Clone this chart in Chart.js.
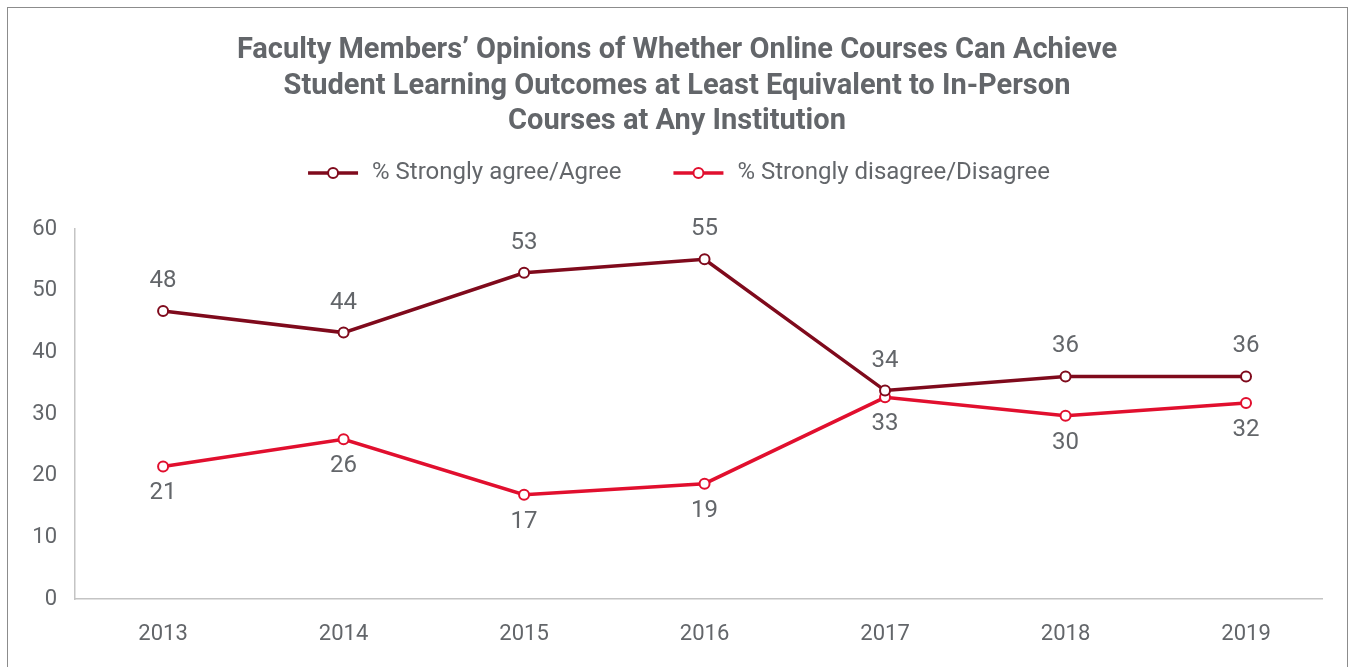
<!DOCTYPE html>
<html lang="en">
<head>
    <meta charset="UTF-8">
    <title>Faculty Members' Opinions of Online Courses</title>
    <style>
        body {
            margin: 0;
            background: #ffffff;
            overflow: hidden;
        }
        .frame {
            position: absolute;
            left: 7px;
            top: 7px;
            width: 1339px;
            height: 700px;
            border: 1px solid #8c8c8c;
        }
        #chart {
            position: absolute;
            left: 0;
            top: 0;
        }
    </style>
</head>
<body>
    <div class="frame"></div>
    <canvas id="chart" width="1349" height="667"></canvas>

    <script src="https://cdn.jsdelivr.net/npm/chart.js"></script>
    <script>
        // data
        const years = [2013, 2014, 2015, 2016, 2017, 2018, 2019];
        const agreeValues = [46.7, 43.2, 52.9, 55.1, 33.8, 36.1, 36.1];
        const disagreeValues = [21.5, 25.9, 16.9, 18.7, 32.7, 29.7, 31.8];
        const agreeLabels = ['48', '44', '53', '55', '34', '36', '36'];
        const disagreeLabels = ['21', '26', '17', '19', '33', '30', '32'];
        const yTicks = [0, 10, 20, 30, 40, 50, 60];

        const titleLines = [
            'Faculty Members\u2019 Opinions of Whether Online Courses Can Achieve',
            'Student Learning Outcomes at Least Equivalent to In-Person',
            'Courses at Any Institution'
        ];
        const seriesNames = ['% Strongly agree/Agree', '% Strongly disagree/Disagree'];

        const grey = '#63666a';
        const darkRed = '#7f0a1c';
        const brightRed = '#e10f2e';

        // title, legend and value labels
        const decorations = {
            id: 'decorations',
            afterDatasetsDraw(chart) {
                const ctx = chart.ctx;
                ctx.save();
                ctx.fillStyle = grey;
                ctx.textAlign = 'center';
                ctx.textBaseline = 'middle';

                ctx.font = 'bold 29px Roboto';
                titleLines.forEach((line, i) => {
                    ctx.fillText(line, 677, 51 + i * 35.5);
                });

                // legend
                ctx.font = '24px Roboto';
                const colors = [darkRed, brightRed];
                const lineW = 50, gapText = 14, gapItem = 52;
                const widths = seriesNames.map(s => ctx.measureText(s).width);
                const total = widths.reduce((a, w) => a + lineW + gapText + w, 0) + gapItem;
                let x = 679 - total / 2;
                const ly = 173;
                seriesNames.forEach((name, i) => {
                    ctx.strokeStyle = colors[i];
                    ctx.lineWidth = 3.5;
                    ctx.beginPath();
                    ctx.moveTo(x, ly);
                    ctx.lineTo(x + lineW, ly);
                    ctx.stroke();
                    ctx.beginPath();
                    ctx.arc(x + lineW / 2, ly, 5, 0, Math.PI * 2);
                    ctx.fillStyle = '#fff';
                    ctx.fill();
                    ctx.lineWidth = 2;
                    ctx.stroke();
                    ctx.fillStyle = grey;
                    ctx.textAlign = 'left';
                    ctx.fillText(name, x + lineW + gapText, ly);
                    x += lineW + gapText + widths[i] + gapItem;
                });

                // value labels
                ctx.textAlign = 'center';
                ctx.fillStyle = grey;
                ctx.font = '24px Roboto';
                const labelSets = [agreeLabels, disagreeLabels];
                const offsets = [-30, 27];
                chart.data.datasets.forEach((ds, di) => {
                    chart.getDatasetMeta(di).data.forEach((pt, i) => {
                        ctx.fillText(labelSets[di][i], pt.x, pt.y + offsets[di]);
                    });
                });
                ctx.restore();
            }
        };

        function makeData(values) {
            return years.map((y, i) => ({ x: y, y: values[i] }));
        }

        const chart = new Chart(document.getElementById('chart'), {
            type: 'line',
            data: {
                datasets: [{
                    label: seriesNames[0],
                    data: makeData(agreeValues),
                    borderColor: darkRed,
                    backgroundColor: '#ffffff',
                    borderWidth: 3.5,
                    pointRadius: 5,
                    pointBorderWidth: 2,
                    pointBorderColor: darkRed,
                    pointBackgroundColor: '#ffffff',
                    tension: 0
                }, {
                    label: seriesNames[1],
                    data: makeData(disagreeValues),
                    borderColor: brightRed,
                    backgroundColor: '#ffffff',
                    borderWidth: 3.5,
                    pointRadius: 5,
                    pointBorderWidth: 2,
                    pointBorderColor: brightRed,
                    pointBackgroundColor: '#ffffff',
                    tension: 0
                }]
            },
            options: {
                responsive: false,
                animation: false,
                layout: {
                    padding: { top: 229, right: 27, left: 0, bottom: 0 }
                },
                plugins: {
                    legend: { display: false },
                    title: { display: false },
                    tooltip: { enabled: false }
                },
                scales: {
                    x: {
                        type: 'linear',
                        min: 2012.512,
                        max: 2019.421,
                        afterBuildTicks: (scale) => {
                            scale.ticks = years.map(v => ({ value: v }));
                        },
                        afterFit: (scale) => { scale.height = 68; },
                        grid: { display: false },
                        border: { display: true, color: '#c4c4c4', width: 1.5 },
                        ticks: {
                            color: grey,
                            font: { family: 'Roboto', size: 22 },
                            padding: 14,
                            callback: (v) => String(v)
                        }
                    },
                    y: {
                        min: 0,
                        max: 60,
                        afterBuildTicks: (scale) => {
                            scale.ticks = yTicks.map(v => ({ value: v }));
                        },
                        afterFit: (scale) => { scale.width = 75; },
                        grid: { display: false },
                        border: { display: true, color: '#c4c4c4', width: 1.5 },
                        ticks: {
                            color: grey,
                            font: { family: 'Roboto', size: 22 },
                            padding: 10
                        }
                    }
                }
            },
            plugins: [decorations]
        });
    </script>
</body>
</html>
